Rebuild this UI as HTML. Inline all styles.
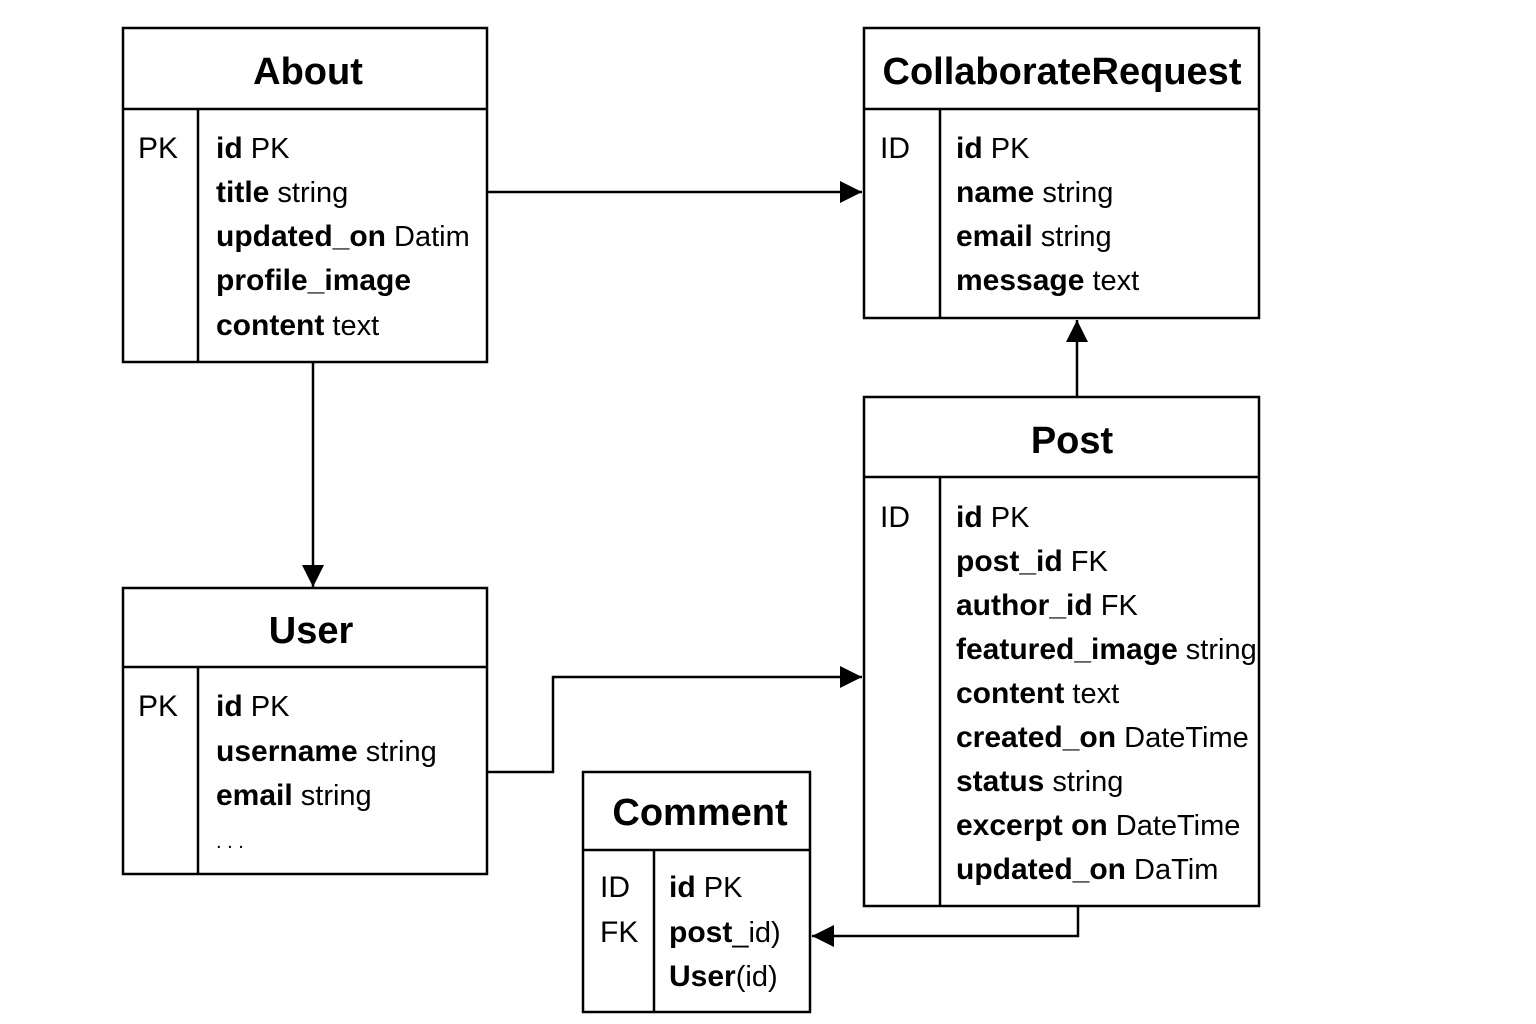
<!DOCTYPE html>
<html><head><meta charset="utf-8"><style>
html,body{margin:0;padding:0;background:#fff;}
svg{display:block}
text{font-family:"Liberation Sans",sans-serif;fill:#000}
.h{font-size:38px;font-weight:bold}
.k{font-size:30px}
.n{font-size:30px;font-weight:bold}
.t{font-size:29px}
</style></head><body>
<svg width="1536" height="1024" viewBox="0 0 1536 1024">
<defs>
<marker id="b" viewBox="0 0 10 10" markerWidth="22" markerHeight="22" refX="10" refY="5" orient="auto" markerUnits="userSpaceOnUse"><path d="M0,0 L10,5 L0,10 z" fill="#000"/></marker></defs>
<g fill="none" stroke="#000" stroke-width="2.5">
<rect x="123" y="28" width="364" height="334"/><line x1="123" y1="109" x2="487" y2="109"/><line x1="198" y1="109" x2="198" y2="362"/>
<rect x="864" y="28" width="395" height="290"/><line x1="864" y1="109" x2="1259" y2="109"/><line x1="940" y1="109" x2="940" y2="318"/>
<rect x="864" y="397" width="395" height="509"/><line x1="864" y1="477" x2="1259" y2="477"/><line x1="940" y1="477" x2="940" y2="906"/>
<rect x="123" y="588" width="364" height="286"/><line x1="123" y1="667" x2="487" y2="667"/><line x1="198" y1="667" x2="198" y2="874"/>
<rect x="583" y="772" width="227" height="240"/><line x1="583" y1="850" x2="810" y2="850"/><line x1="654" y1="850" x2="654" y2="1012"/>
<polyline points="487,192 862,192" marker-end="url(#b)"/>
<polyline points="313,362 313,587" marker-end="url(#b)"/>
<polyline points="1077,397 1077,320" marker-end="url(#b)"/>
<polyline points="487,772 553,772 553,677 862,677" marker-end="url(#b)"/>
<polyline points="1078,906 1078,936 812,936" marker-end="url(#b)"/>
</g>
<text class="h" x="308" y="84" text-anchor="middle">About</text>
<text class="k" x="138" y="158">PK</text>
<text x="216" y="158"><tspan class="n">id</tspan><tspan class="t"> PK</tspan></text>
<text x="216" y="202"><tspan class="n">title</tspan><tspan class="t"> string</tspan></text>
<text x="216" y="246"><tspan class="n">updated_on</tspan><tspan class="t" font-size="26"> Datim</tspan></text>
<text x="216" y="290"><tspan class="n">profile_image</tspan></text>
<text x="216" y="335"><tspan class="n">content</tspan><tspan class="t"> text</tspan></text>

<text class="h" x="1062" y="84" text-anchor="middle">CollaborateRequest</text>
<text class="k" x="880" y="158">ID</text>
<text x="956" y="158"><tspan class="n">id</tspan><tspan class="t"> PK</tspan></text>
<text x="956" y="202"><tspan class="n">name</tspan><tspan class="t"> string</tspan></text>
<text x="956" y="246"><tspan class="n">email</tspan><tspan class="t"> string</tspan></text>
<text x="956" y="290"><tspan class="n">message</tspan><tspan class="t"> text</tspan></text>

<text class="h" x="1072" y="453" text-anchor="middle">Post</text>
<text class="k" x="880" y="527">ID</text>
<text x="956" y="527"><tspan class="n">id</tspan><tspan class="t"> PK</tspan></text>
<text x="956" y="571"><tspan class="n">post_id</tspan><tspan class="t"> FK</tspan></text>
<text x="956" y="615"><tspan class="n">author_id</tspan><tspan class="t"> FK</tspan></text>
<text x="956" y="659"><tspan class="n">featured_image</tspan><tspan class="t" font-size="24"> string</tspan></text>
<text x="956" y="703"><tspan class="n">content</tspan><tspan class="t"> text</tspan></text>
<text x="956" y="747"><tspan class="n">created_on</tspan><tspan class="t" font-size="27"> DateTime</tspan></text>
<text x="956" y="791"><tspan class="n">status</tspan><tspan class="t"> string</tspan></text>
<text x="956" y="835"><tspan class="n">excerpt on</tspan><tspan class="t" font-size="27"> DateTime</tspan></text>
<text x="956" y="879"><tspan class="n">updated_on</tspan><tspan class="t" font-size="28"> DaTim</tspan></text>

<text class="h" x="311" y="643" text-anchor="middle">User</text>
<text class="k" x="138" y="716">PK</text>
<text x="216" y="716"><tspan class="n">id</tspan><tspan class="t"> PK</tspan></text>
<text x="216" y="761"><tspan class="n">username</tspan><tspan class="t"> string</tspan></text>
<text x="216" y="805"><tspan class="n">email</tspan><tspan class="t"> string</tspan></text>
<text x="216" y="848" font-size="20">. . .</text>

<text class="h" x="700" y="825" text-anchor="middle">Comment</text>
<text class="k" x="600" y="897">ID</text>
<text class="k" x="600" y="942">FK</text>
<text x="669" y="897"><tspan class="n">id</tspan><tspan class="t"> PK</tspan></text>
<text x="669" y="942"><tspan class="n">post</tspan><tspan class="t">_id)</tspan></text>
<text x="669" y="986"><tspan class="n">User</tspan><tspan class="t">(id)</tspan></text>
</svg>
</body></html>
